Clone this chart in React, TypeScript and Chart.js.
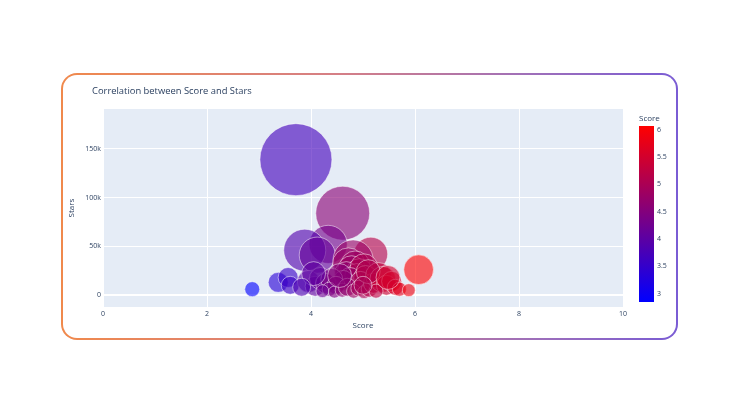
import React, { useEffect, useRef } from "react";
import { Chart, registerables } from "chart.js";

Chart.register(...registerables);

// ---- data ----
const scores = [
  3.71, 4.61, 4.33, 3.88, 4.12, 5.15, 4.81, 6.07, 2.87, 3.37, 3.56, 3.6,
  4.72, 4.85, 4.78, 4.93, 4.68, 4.88, 5.02, 4.75, 5.05, 4.62, 4.95,
  3.95, 4.08, 4.18, 4.28, 4.4, 4.48, 4.35, 4.22, 4.45, 4.6, 4.7, 4.82, 4.92, 5.02, 5.12,
  5.2, 5.3, 5.38, 5.45, 5.55, 5.62, 5.7, 5.88, 5.25, 5.1, 5.0, 4.55, 4.05, 3.82, 5.48,
];
const stars = [
  139000, 84000, 52000, 46000, 41000, 42000, 36000, 26000, 6000, 13000, 18000, 10000,
  32000, 30000, 26000, 24000, 22000, 20000, 28000, 17000, 18000, 15000, 14000,
  14000, 9000, 17000, 12000, 16000, 10000, 6000, 4000, 3000, 5000, 8000, 4000, 7000, 3000, 6000,
  12000, 20000, 16000, 10000, 14000, 8000, 6000, 5000, 4000, 24000, 10000, 20000, 22000, 8000, 18000,
];
const sizes = [
  100, 56, 28, 34, 25, 22, 31, 17, 4.3, 7.7, 7.7, 6.2,
  19.7, 17, 15, 13, 11, 11, 15, 9.3, 11, 7.7, 7.7,
  9.3, 7.7, 9.3, 7.7, 9.3, 6.2, 3.8, 3.2, 2.8, 3.8, 6.2, 3.8, 4.9, 3.2, 4.9,
  7.7, 13, 13, 7.7, 7.7, 4.9, 3.8, 3.2, 3.8, 11, 6.2, 11, 11, 6.2, 11,
];
const xTicks = [0, 2, 4, 6, 8, 10];
const yTicks = [0, 50000, 100000, 150000];
const colorbarTicks = [3, 3.5, 4, 4.5, 5, 5.5, 6];
const colorMin = 2.85;
const colorMax = 6.07;

const TITLE = "Correlation between Score and Stars";
const X_TITLE = "Score";
const Y_TITLE = "Stars";
const CB_TITLE = "Score";

const TEXT_COLOR = "#2a3f5f";
const FONT = "'Open Sans', 'DejaVu Sans', sans-serif";

function bluered(v: number, a: number) {
  let t = (v - colorMin) / (colorMax - colorMin);
  t = Math.max(0, Math.min(1, t));
  return `rgba(${Math.round(255 * t)},0,${Math.round(255 * (1 - t))},${a})`;
}

const maxSize = Math.max(...sizes);
const MAX_R = 36;

export default function App() {
  const ref = useRef<HTMLCanvasElement | null>(null);

  useEffect(() => {
    if (!ref.current) return;

    const bgPlugin = {
      id: "plotBg",
      beforeDraw(chart: any) {
        const { ctx, chartArea: a } = chart;
        ctx.save();
        ctx.fillStyle = "#E5ECF6";
        ctx.fillRect(a.left, a.top, a.right - a.left, a.bottom - a.top);
        ctx.restore();
      },
    };

    const decoPlugin = {
      id: "deco",
      afterDraw(chart: any) {
        const { ctx } = chart;
        ctx.save();
        // title
        ctx.fillStyle = TEXT_COLOR;
        ctx.font = `9.4px ${FONT}`;
        ctx.textAlign = "left";
        ctx.textBaseline = "middle";
        ctx.fillText(TITLE, 92, 91);

        // colorbar
        const cbX = 639, cbW = 15, cbTop = 126, cbBottom = 302;
        const grad = ctx.createLinearGradient(0, cbBottom, 0, cbTop);
        grad.addColorStop(0, "rgb(0,0,255)");
        grad.addColorStop(1, "rgb(255,0,0)");
        ctx.fillStyle = grad;
        ctx.fillRect(cbX, cbTop, cbW, cbBottom - cbTop);

        ctx.fillStyle = TEXT_COLOR;
        ctx.font = `7px ${FONT}`;
        ctx.textAlign = "left";
        ctx.textBaseline = "middle";
        colorbarTicks.forEach((v) => {
          const y = cbBottom - ((v - colorMin) / (colorMax - colorMin)) * (cbBottom - cbTop);
          ctx.fillText(String(v), cbX + cbW + 3, y);
        });
        ctx.font = `8px ${FONT}`;
        ctx.fillText(CB_TITLE, cbX, 119);
        ctx.restore();
      },
    };

    const points = scores.map((s, i) => ({
      x: s,
      y: stars[i],
      r: MAX_R * Math.sqrt(sizes[i] / maxSize),
    }));

    const chart = new Chart(ref.current, {
      type: "bubble",
      data: {
        datasets: [
          {
            data: points,
            backgroundColor: scores.map((s) => bluered(s, 0.62)),
            borderColor: "rgba(255,255,255,0.5)",
            borderWidth: 1,
            hoverRadius: 0,
          },
        ],
      },
      options: {
        responsive: false,
        animation: false,
        layout: { padding: { left: 60, right: 114, top: 109, bottom: 74 } },
        plugins: {
          legend: { display: false },
          title: { display: false },
          tooltip: { enabled: false },
        },
        scales: {
          x: {
            type: "linear",
            min: 0,
            max: 10,
            afterBuildTicks: (s: any) => {
              s.ticks = xTicks.map((v) => ({ value: v }));
            },
            afterFit: (s: any) => {
              s.height = 34;
            },
            grid: { color: "#ffffff", lineWidth: 1, drawTicks: false },
            border: { display: false },
            ticks: {
              padding: 3,
              color: TEXT_COLOR,
              font: { size: 7, family: FONT },
              maxRotation: 0,
              callback: (v: any) => String(v),
            },
            title: {
              display: true,
              text: X_TITLE,
              color: TEXT_COLOR,
              font: { size: 8, family: FONT },
              padding: { top: 0, bottom: 10 },
            },
          },
          y: {
            type: "linear",
            min: -12300,
            max: 191000,
            afterBuildTicks: (s: any) => {
              s.ticks = yTicks.map((v) => ({ value: v }));
            },
            afterFit: (s: any) => {
              s.width = 43;
            },
            grid: {
              color: "#ffffff",
              lineWidth: (c: any) => (c.tick && c.tick.value === 0 ? 2 : 1),
              drawTicks: false,
            },
            border: { display: false },
            ticks: {
              padding: 2,
              color: TEXT_COLOR,
              font: { size: 7, family: FONT },
              callback: (v: any) => (v === 0 ? "0" : `${Math.round(Number(v) / 1000)}k`),
            },
            title: {
              display: true,
              text: Y_TITLE,
              color: TEXT_COLOR,
              font: { size: 8, family: FONT },
              padding: { top: 7, bottom: 0 },
            },
          },
        },
      },
      plugins: [bgPlugin, decoPlugin],
    });

    return () => chart.destroy();
  }, []);

  return (
    <div
      style={{
        position: "fixed",
        left: 0,
        top: 0,
        width: 737,
        height: 415,
        background: "#ffffff",
        overflow: "hidden",
      }}
    >
      <div
        style={{
          position: "absolute",
          left: 61,
          top: 73,
          width: 617,
          height: 267,
          borderRadius: 16,
          padding: 2,
          boxSizing: "border-box",
          background: "linear-gradient(90deg, #f0894c 0%, #d57f86 45%, #a070b8 75%, #7a5cd4 100%)",
        }}
      >
        <div style={{ width: "100%", height: "100%", background: "#fff", borderRadius: 14 }} />
      </div>
      <canvas
        ref={ref}
        width={737}
        height={415}
        style={{ position: "absolute", left: 0, top: 0, width: 737, height: 415 }}
      />
    </div>
  );
}
